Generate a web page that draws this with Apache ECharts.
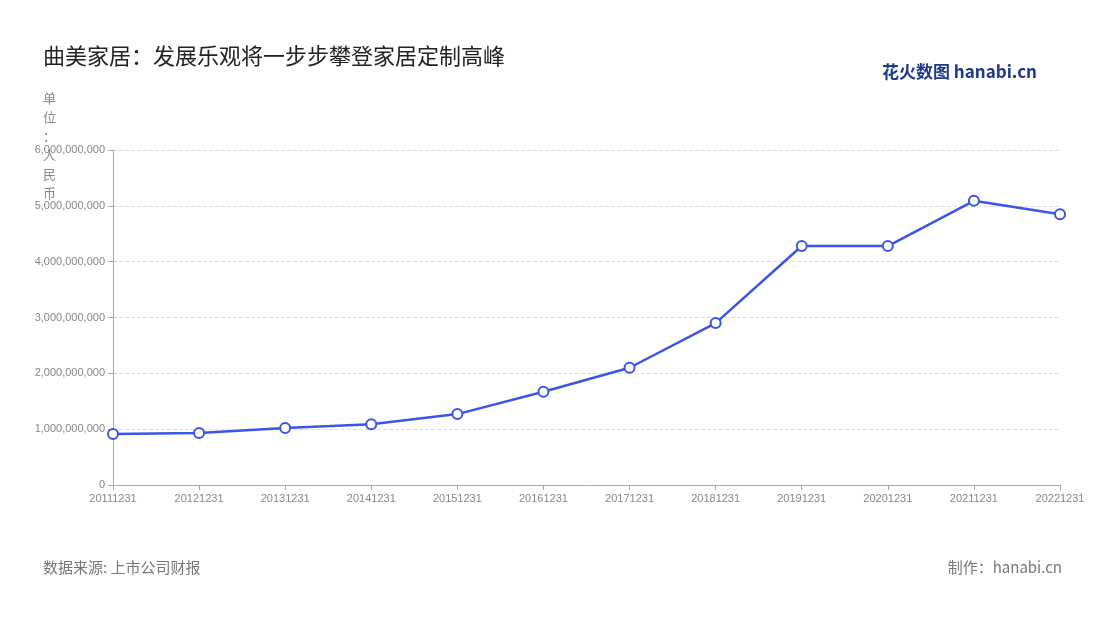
<!DOCTYPE html>
<html><head><meta charset="utf-8">
<script src="https://cdn.jsdelivr.net/npm/echarts@6/dist/echarts.min.js"></script>
<style>body{margin:0}#c{width:1100px;height:620px}</style></head>
<body><div id="c"></div>
<script>
const categories=['20111231','20121231','20131231','20141231','20151231','20161231','20171231','20181231','20191231','20201231','20211231','20221231'];
const revenue=[913000000,930000000,1020000000,1090000000,1270000000,1670000000,2100000000,2900000000,4280000000,4280000000,5090000000,4850000000];
const chart=echarts.init(document.getElementById('c'));
chart.setOption({
  backgroundColor:'#fff',
  title:[
    {text:'曲美家居：发展乐观将一步步攀登家居定制高峰',left:38,top:40,textStyle:{fontSize:22,fontWeight:'normal',color:'#222',fontFamily:'Noto Sans CJK SC'}},
    {text:'数据来源: 上市公司财报',left:38,top:555,textStyle:{fontSize:15,fontWeight:'normal',color:'#777',fontFamily:'Noto Sans CJK SC'}},
    {text:'制作：hanabi.cn',right:33,top:555,textStyle:{fontSize:15,fontWeight:'normal',color:'#777',fontFamily:'Noto Sans CJK SC'}},
    {text:'花火数图 hanabi.cn',right:58,top:58,textStyle:{fontSize:17,fontWeight:'bold',color:'#1d3a8a',fontFamily:'Noto Sans CJK SC'}},
    {text:'单\n位\n：\n人\n民\n币',left:38,top:84,textStyle:{fontSize:13,lineHeight:19,fontWeight:'normal',color:'#888',fontFamily:'Noto Sans CJK SC'}}
  ],
  grid:{left:113,right:40,top:150,bottom:135},
  xAxis:{type:'category',data:categories,boundaryGap:false,
    axisLine:{lineStyle:{color:'#aaa'}},axisTick:{show:true,lineStyle:{color:'#aaa'}},
    axisLabel:{color:'#888',fontSize:11,interval:0}},
  yAxis:{type:'value',min:0,max:6000000000,interval:1000000000,
    axisLine:{show:true,lineStyle:{color:'#aaa'}},axisTick:{show:true,lineStyle:{color:'#aaa'}},
    axisLabel:{color:'#888',fontSize:11,formatter:v=>v.toLocaleString('en-US')},
    splitLine:{lineStyle:{type:'dashed',color:'#ddd'}}},
  series:[{type:'line',data:revenue,symbol:'circle',symbolSize:10,
    lineStyle:{color:'#3c55e6',width:2.5},
    itemStyle:{color:'#fff',borderColor:'#3c55e6',borderWidth:2}}]
});
</script></body></html>
